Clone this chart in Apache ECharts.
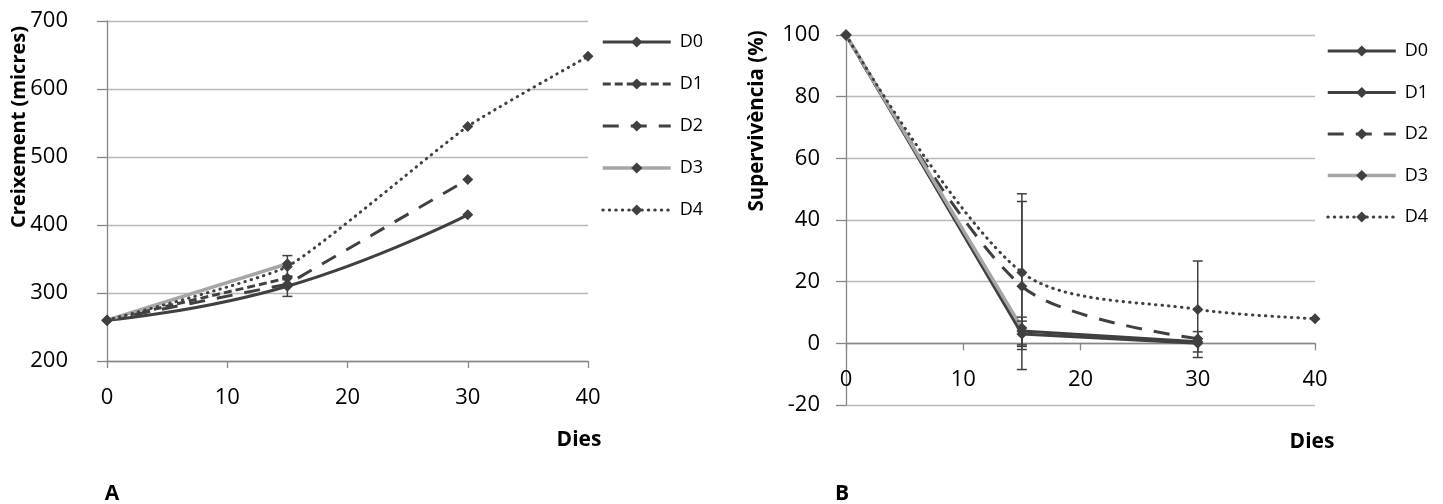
<!DOCTYPE html>
<html>
<head>
<meta charset="utf-8">
<script src="https://cdn.jsdelivr.net/npm/echarts@6/dist/echarts.min.js"></script>
<style>
html,body{margin:0;padding:0;background:#fff;}
#a{position:absolute;left:0;top:0;width:722px;height:504px;}
#b{position:absolute;left:722px;top:0;width:721px;height:504px;}
</style>
</head>
<body>
<div id="a"></div>
<div id="b"></div>
<script>
// ---- data ----
const seriesNames = ['D0', 'D1', 'D2', 'D3', 'D4'];
const days = [0, 15, 30, 40];
const xTicks = [0, 10, 20, 30, 40];

// Chart A: Creixement (micres)
const growthD0 = [260, 310, 415, null];
const growthD1 = [260, 322, null, null];
const growthD2 = [260, 313, 467, null];
const growthD3 = [260, 343, null, null];
const growthD4 = [260, 339, 545, 648];
// error bars [day, low, high]
const growthErr = [[15, 324, 355], [15, 295, 325]];

// Chart B: Supervivència (%)
const survD0 = [100, 4, 0.5, null];
const survD1 = [100, 3, 0, null];
const survD2 = [100, 18.5, 1.5, null];
const survD3 = [100, 5, null, null];
const survD4 = [100, 23, 11, 8];
const survErr = [[15, -2, 48.5], [15, -8.5, 46], [15, -0.5, 8.5], [15, -1, 7.2], [30, -4.6, 26.7], [30, -2.8, 3.8]];

// ---- styles ----
const DARK = '#404040';
const GREY = '#a6a6a6';
const FONT = '"Open Sans", "Noto Sans", sans-serif';

function pairs(vals) {
  const out = [];
  vals.forEach((v, i) => { if (v !== null) out.push([days[i], v]); });
  return out;
}

function lineSeries(name, vals, lineColor, dash, smooth, width) {
  return {
    name: name,
    type: 'line',
    data: pairs(vals),
    smooth: smooth,
    symbol: 'diamond',
    symbolSize: 11,
    showAllSymbol: true,
    itemStyle: { color: DARK },
    lineStyle: { color: lineColor, width: width || 3, type: dash, cap: (Array.isArray(dash) && dash[0] < 1) ? 'round' : 'butt' },
    emphasis: { disabled: true },
    animation: false,
    z: 3
  };
}

function errSeries(data) {
  return {
    type: 'custom',
    data: data,
    encode: { x: 0, y: [1, 2] },
    silent: true,
    animation: false,
    z: 4,
    renderItem: function (params, api) {
      const x = api.value(0);
      const lo = api.coord([x, api.value(1)]);
      const hi = api.coord([x, api.value(2)]);
      const hw = 5;
      const st = { stroke: DARK, lineWidth: 1.5 };
      return {
        type: 'group',
        children: [
          { type: 'line', shape: { x1: lo[0], y1: lo[1], x2: hi[0], y2: hi[1] }, style: st },
          { type: 'line', shape: { x1: lo[0] - hw, y1: lo[1], x2: lo[0] + hw, y2: lo[1] }, style: st },
          { type: 'line', shape: { x1: hi[0] - hw, y1: hi[1], x2: hi[0] + hw, y2: hi[1] }, style: st }
        ]
      };
    }
  };
}

function baseAxes(yMin, yMax, yInt, yLabelMargin, xOffset, xMargin) {
  return {
    xAxis: {
      type: 'value', min: 0, max: 40, interval: 10,
      position: 'bottom',
      offset: xOffset,
      axisLine: { show: true, onZero: false, lineStyle: { color: '#868686', width: 1.3 } },
      axisTick: { show: true, length: 7, lineStyle: { color: '#868686', width: 1.3 } },
      splitLine: { show: false },
      axisLabel: { fontSize: 22, color: '#000', fontFamily: FONT, margin: xMargin }
    },
    yAxis: {
      type: 'value', min: yMin, max: yMax, interval: yInt,
      axisLine: { show: true, onZero: false, lineStyle: { color: '#868686', width: 1.3 } },
      axisTick: { show: true, length: 10, lineStyle: { color: '#868686', width: 1.3 } },
      splitLine: { show: true, lineStyle: { color: '#b8b8b8', width: 1.3 } },
      axisLabel: { fontSize: 22, color: '#000', fontFamily: FONT, margin: yLabelMargin }
    }
  };
}

function legendCfg(left, top, gap, styles) {
  return {
    data: seriesNames.map((n, i) => ({ name: n, lineStyle: styles[i] })),
    orient: 'vertical',
    left: left,
    top: top,
    padding: 0,
    itemWidth: 68,
    itemHeight: 14,
    itemGap: gap,
    selectedMode: false,
    textStyle: { fontSize: 18, color: '#000', fontFamily: FONT, padding: [0, 0, 0, 4] }
  };
}

function textEl(text, x, y, rot, size) {
  return {
    type: 'text', x: x, y: y, rotation: rot || 0,
    style: { text: text, fontSize: size || 20, fontWeight: 'bold', fontFamily: FONT, fill: '#000', align: 'center', verticalAlign: 'middle' }
  };
}

const legendStylesA = [
  { color: DARK, width: 3, type: 'solid' },
  { color: DARK, width: 3, type: [8, 4] },
  { color: DARK, width: 3, type: [16, 12] },
  { color: GREY, width: 3.5, type: 'solid' },
  { color: DARK, width: 3, type: [0.5, 6], cap: 'round' }
];
const legendStylesB = [
  { color: DARK, width: 3, type: 'solid' },
  { color: DARK, width: 3, type: 'solid' },
  { color: DARK, width: 3, type: [16, 12] },
  { color: GREY, width: 3.5, type: 'solid' },
  { color: DARK, width: 3, type: [0.5, 6], cap: 'round' }
];

// ---- Chart A ----
const axA = baseAxes(200, 700, 100, 39, 0, 26);
const chartA = echarts.init(document.getElementById('a'), null, { renderer: 'canvas' });
chartA.setOption({
  animation: false,
  grid: { left: 107, top: 21, width: 481, height: 340 },
  xAxis: axA.xAxis,
  yAxis: axA.yAxis,
  legend: legendCfg(601, 33, 24, legendStylesA),
  graphic: [
    textEl('Creixement (micres)', 19, 127, Math.PI / 2, 20),
    textEl('Dies', 579, 440, 0, 21),
    textEl('A', 112, 494, 0, 21)
  ],
  series: [
    lineSeries('D0', growthD0, DARK, 'solid', 0.5),
    lineSeries('D1', growthD1, DARK, [8, 4], false),
    lineSeries('D2', growthD2, DARK, [16, 12], false),
    lineSeries('D3', growthD3, GREY, 'solid', false, 3.5),
    lineSeries('D4', growthD4, DARK, [0.5, 6], 0.15),
    errSeries(growthErr)
  ]
});

// ---- Chart B ----
// x axis sits on the zero line: 20/120 of 370 px above the bottom
const axB = baseAxes(-20, 100, 20, 26, -370 * 20 / 120, 25);
const chartB = echarts.init(document.getElementById('b'), null, { renderer: 'canvas' });
chartB.setOption({
  animation: false,
  grid: { left: 124, top: 35, width: 469, height: 370 },
  xAxis: axB.xAxis,
  yAxis: axB.yAxis,
  legend: legendCfg(604, 42, 23.5, legendStylesB),
  graphic: [
    textEl('Supervivència (%)', 35, 121, Math.PI / 2, 20.5),
    textEl('Dies', 590, 442, 0, 21),
    textEl('B', 120, 494, 0, 21)
  ],
  series: [
    lineSeries('D0', survD0, DARK, 'solid', false),
    lineSeries('D1', survD1, DARK, 'solid', false),
    lineSeries('D2', survD2, DARK, [16, 12], 0.3),
    lineSeries('D3', survD3, GREY, 'solid', false, 3.5),
    lineSeries('D4', survD4, DARK, [0.5, 6], 0.3),
    errSeries(survErr)
  ]
});
</script>
</body>
</html>
